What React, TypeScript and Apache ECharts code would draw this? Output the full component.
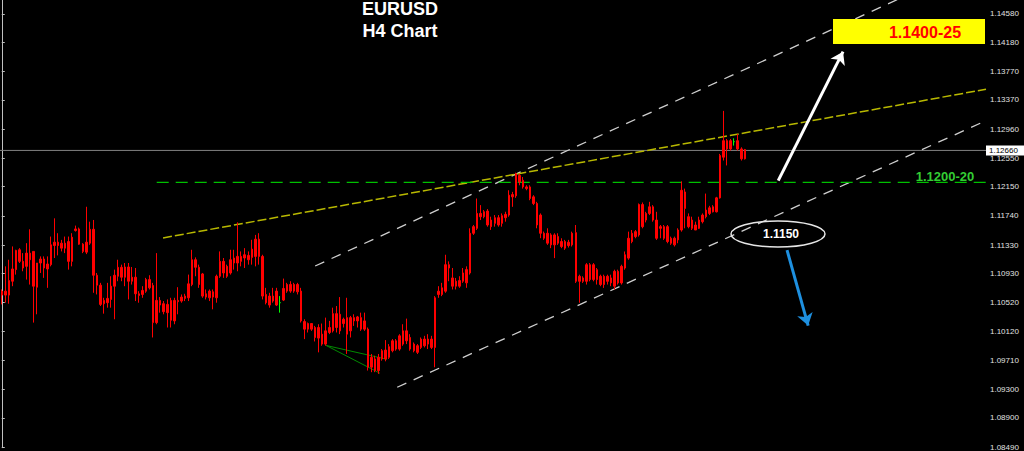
import React, { useEffect, useRef } from "react";
import * as echarts from "echarts";

// EURUSD H4 candles: [open, close, low, high]
const candles: number[][] = [
  [1.10626, 1.10681, 1.10495, 1.10705], [1.10681, 1.10626, 1.10519, 1.1103], [1.10626, 1.1083, 1.10505, 1.11123],
  [1.10821, 1.10993, 1.10751, 1.1131], [1.10984, 1.11254, 1.10914, 1.11263], [1.11263, 1.111, 1.11077, 1.11286],
  [1.111, 1.11007, 1.10961, 1.11216], [1.1103, 1.11216, 1.10844, 1.11356], [1.11216, 1.11123, 1.10774, 1.11551],
  [1.1124, 1.10751, 1.10239, 1.1124], [1.10737, 1.11077, 1.10356, 1.11077], [1.11077, 1.11133, 1.10937, 1.1117],
  [1.11133, 1.11007, 1.10868, 1.1117], [1.10993, 1.11063, 1.10728, 1.1117], [1.11054, 1.11333, 1.1103, 1.11449],
  [1.11323, 1.1137, 1.11147, 1.11705], [1.1137, 1.11323, 1.11184, 1.11496], [1.11356, 1.11286, 1.1124, 1.11402],
  [1.11286, 1.11356, 1.11216, 1.11449], [1.11379, 1.111, 1.10984, 1.11449], [1.111, 1.1144, 1.1103, 1.11496],
  [1.11533, 1.11556, 1.11519, 1.11603], [1.11556, 1.11342, 1.11333, 1.11575], [1.11342, 1.1124, 1.11216, 1.11356],
  [1.1123, 1.1137, 1.11202, 1.11868], [1.11356, 1.11551, 1.11333, 1.11658], [1.11551, 1.10905, 1.10658, 1.11682],
  [1.10905, 1.10765, 1.10635, 1.10937], [1.10765, 1.10495, 1.10472, 1.10798], [1.10505, 1.10551, 1.10365, 1.10588],
  [1.10579, 1.10519, 1.10449, 1.10798], [1.10565, 1.10751, 1.10449, 1.10891], [1.10751, 1.10905, 1.10286, 1.10984],
  [1.10891, 1.11016, 1.10821, 1.11123], [1.11016, 1.10877, 1.10821, 1.11054], [1.10877, 1.11021, 1.10751, 1.11077],
  [1.11021, 1.10821, 1.10565, 1.11077], [1.10821, 1.10877, 1.10774, 1.11021], [1.10877, 1.10644, 1.10542, 1.11007],
  [1.10644, 1.10621, 1.10519, 1.10681], [1.10635, 1.10691, 1.10588, 1.10751], [1.10681, 1.10844, 1.10658, 1.10868],
  [1.10844, 1.10728, 1.10705, 1.10905], [1.10761, 1.10239, 1.1003, 1.10798], [1.10239, 1.10551, 1.10216, 1.11216],
  [1.10551, 1.10486, 1.10379, 1.10598], [1.10505, 1.10393, 1.10356, 1.10542], [1.10379, 1.10495, 1.1017, 1.10565],
  [1.10551, 1.10272, 1.1017, 1.10588], [1.10263, 1.10551, 1.10216, 1.10588], [1.10533, 1.10551, 1.10356, 1.10737],
  [1.10542, 1.10598, 1.10519, 1.10635], [1.10579, 1.10612, 1.10542, 1.10644], [1.10588, 1.10784, 1.10542, 1.10914],
  [1.10775, 1.11123, 1.10751, 1.11263], [1.11123, 1.11017, 1.10891, 1.11156], [1.11017, 1.10775, 1.10728, 1.11054],
  [1.10923, 1.10612, 1.10588, 1.10937], [1.10598, 1.10644, 1.10565, 1.10705], [1.10682, 1.10588, 1.10542, 1.10705],
  [1.10598, 1.10672, 1.10426, 1.10705], [1.10588, 1.10891, 1.10519, 1.10914], [1.10891, 1.111, 1.10868, 1.1124],
  [1.111, 1.10937, 1.10868, 1.11147], [1.10891, 1.1103, 1.10868, 1.11054], [1.10937, 1.11123, 1.10914, 1.11263],
  [1.11147, 1.11077, 1.10984, 1.11263], [1.11077, 1.1117, 1.10961, 1.11649], [1.1117, 1.111, 1.1103, 1.1124],
  [1.11147, 1.11193, 1.11007, 1.11286], [1.11184, 1.11123, 1.11054, 1.1124], [1.11156, 1.11272, 1.11054, 1.11403],
  [1.1117, 1.11412, 1.1103, 1.11472], [1.11412, 1.1117, 1.11054, 1.11496], [1.1117, 1.10612, 1.10565, 1.11193],
  [1.10635, 1.10519, 1.10495, 1.10728], [1.10486, 1.10612, 1.10449, 1.10658], [1.10612, 1.10542, 1.10519, 1.10728],
  [1.10486, 1.10682, 1.10472, 1.10728], [1.10519, 1.10519, 1.10379, 1.10612], [1.10556, 1.10719, 1.10542, 1.10858],
  [1.10682, 1.10775, 1.10658, 1.10798], [1.10775, 1.10682, 1.10658, 1.10821], [1.10682, 1.10775, 1.10658, 1.10798],
  [1.10775, 1.10672, 1.10635, 1.10798], [1.10682, 1.10263, 1.1024, 1.10728], [1.10254, 1.10147, 1.10007, 1.10286],
  [1.10147, 1.10226, 1.101, 1.1024], [1.10226, 1.10147, 1.10123, 1.10226], [1.1017, 1.1003, 1.09974, 1.10193],
  [1.10021, 1.1017, 1.09821, 1.10216], [1.10077, 1.09937, 1.09914, 1.10226], [1.09937, 1.10123, 1.09914, 1.10309],
  [1.101, 1.1017, 1.10077, 1.10263], [1.10123, 1.10365, 1.101, 1.10449], [1.10365, 1.1017, 1.101, 1.10472],
  [1.10123, 1.10356, 1.10077, 1.10598], [1.10286, 1.10226, 1.1017, 1.10309], [1.10309, 1.10077, 1.09798, 1.10588],
  [1.10123, 1.10309, 1.1003, 1.10333], [1.10309, 1.10263, 1.10193, 1.10356], [1.10263, 1.10319, 1.1017, 1.10333],
  [1.10309, 1.10147, 1.10123, 1.10379], [1.10147, 1.10263, 1.10123, 1.10379], [1.10147, 1.09612, 1.09565, 1.1017],
  [1.09612, 1.09751, 1.09542, 1.09798], [1.09728, 1.09565, 1.09542, 1.09774], [1.09565, 1.09751, 1.09518, 1.09798],
  [1.09728, 1.09844, 1.09704, 1.09867], [1.09853, 1.09728, 1.09695, 1.09993], [1.09751, 1.099, 1.09728, 1.09937],
  [1.09844, 1.09983, 1.09821, 1.10007], [1.09983, 1.09867, 1.09844, 1.10007], [1.09867, 1.10053, 1.09844, 1.10076],
  [1.10123, 1.09937, 1.09914, 1.10216], [1.09983, 1.10123, 1.09937, 1.10295], [1.1003, 1.09867, 1.09844, 1.10076],
  [1.09937, 1.09844, 1.09821, 1.0996], [1.09821, 1.09914, 1.09797, 1.09937], [1.0989, 1.10007, 1.09867, 1.1003],
  [1.10007, 1.09914, 1.0989, 1.10053], [1.09937, 1.10007, 1.09867, 1.10076], [1.10007, 1.0989, 1.09867, 1.10053],
  [1.0989, 1.10588, 1.09611, 1.10611], [1.10635, 1.10681, 1.10588, 1.10751], [1.10635, 1.10728, 1.10611, 1.10798],
  [1.10681, 1.11053, 1.10658, 1.11193], [1.11053, 1.11007, 1.10821, 1.111], [1.10867, 1.10751, 1.10705, 1.11007],
  [1.10751, 1.10821, 1.10705, 1.10867], [1.1083, 1.10751, 1.10728, 1.10891], [1.10821, 1.10937, 1.10798, 1.11007],
  [1.10798, 1.10984, 1.10728, 1.1103], [1.10937, 1.11495, 1.10914, 1.11565], [1.11495, 1.11588, 1.11472, 1.11612],
  [1.11565, 1.11774, 1.11542, 1.11984], [1.11774, 1.11728, 1.11681, 1.11891], [1.11728, 1.11798, 1.11705, 1.11821],
  [1.11807, 1.11612, 1.11588, 1.11835], [1.11588, 1.11681, 1.11542, 1.11728], [1.11714, 1.11635, 1.11588, 1.11751],
  [1.11612, 1.11714, 1.11588, 1.11751], [1.11742, 1.11635, 1.11588, 1.11774], [1.11714, 1.11761, 1.11658, 1.11798],
  [1.11751, 1.1203, 1.11728, 1.121], [1.12039, 1.12007, 1.11867, 1.12077], [1.12021, 1.12333, 1.11993, 1.12347],
  [1.12309, 1.12216, 1.1217, 1.12333], [1.1224, 1.12147, 1.12123, 1.12286], [1.12147, 1.12123, 1.121, 1.1217],
  [1.12147, 1.11984, 1.1196, 1.1217], [1.12007, 1.11914, 1.11891, 1.1203], [1.11914, 1.11612, 1.11565, 1.11937],
  [1.11751, 1.11495, 1.11426, 1.11774], [1.11495, 1.11426, 1.11402, 1.11519], [1.11495, 1.11356, 1.11332, 1.11565],
  [1.11332, 1.11472, 1.11286, 1.11495], [1.11472, 1.11332, 1.11146, 1.11495], [1.11356, 1.11449, 1.11332, 1.11495],
  [1.11379, 1.11309, 1.11286, 1.11425], [1.11286, 1.11379, 1.11262, 1.11402], [1.11369, 1.11323, 1.11295, 1.11402],
  [1.11332, 1.11495, 1.11309, 1.11518], [1.11504, 1.1082, 1.10797, 1.11611], [1.1082, 1.1089, 1.10518, 1.10913],
  [1.10867, 1.1082, 1.10797, 1.1089], [1.1082, 1.11053, 1.10774, 1.11076], [1.11053, 1.10844, 1.1082, 1.11076],
  [1.10844, 1.11053, 1.1082, 1.11076], [1.10983, 1.10844, 1.10774, 1.11006], [1.1089, 1.10774, 1.10751, 1.10913],
  [1.10774, 1.1089, 1.10727, 1.10913], [1.1089, 1.1082, 1.10774, 1.10913], [1.10797, 1.10867, 1.10751, 1.10913],
  [1.1096, 1.10751, 1.10704, 1.10983], [1.10797, 1.1096, 1.10774, 1.10983], [1.10797, 1.1103, 1.10774, 1.11053],
  [1.11006, 1.11193, 1.10983, 1.11239], [1.11146, 1.11425, 1.11123, 1.11518], [1.11379, 1.11495, 1.11355, 1.11541],
  [1.11448, 1.11518, 1.11425, 1.11541], [1.11472, 1.11899, 1.11448, 1.11914], [1.11899, 1.11588, 1.11565, 1.11928],
  [1.11681, 1.11774, 1.11648, 1.11797], [1.11774, 1.11867, 1.11751, 1.11937], [1.11867, 1.11681, 1.11658, 1.1189],
  [1.11681, 1.11425, 1.11402, 1.11797], [1.11565, 1.11588, 1.11425, 1.11611], [1.11588, 1.11425, 1.11402, 1.11611],
  [1.11588, 1.11379, 1.11355, 1.11611], [1.11355, 1.11425, 1.11332, 1.11448], [1.11425, 1.11332, 1.11309, 1.11448],
  [1.11402, 1.11541, 1.11355, 1.11565], [1.11541, 1.12099, 1.11518, 1.12225], [1.12076, 1.11844, 1.11565, 1.12123],
  [1.11728, 1.11588, 1.11565, 1.11774], [1.11681, 1.11565, 1.11541, 1.11728], [1.11541, 1.11611, 1.11541, 1.11658],
  [1.11565, 1.11681, 1.11555, 1.11728], [1.11658, 1.11751, 1.11634, 1.11774], [1.11728, 1.11821, 1.11704, 1.12053],
  [1.11774, 1.11853, 1.11751, 1.11881], [1.11867, 1.11797, 1.11788, 1.1189], [1.11797, 1.11993, 1.11788, 1.12007],
  [1.11993, 1.12588, 1.11983, 1.12611], [1.12565, 1.12797, 1.12518, 1.13216], [1.12797, 1.12681, 1.12449, 1.12821],
  [1.12681, 1.12797, 1.12658, 1.12821], [1.12783, 1.12783, 1.12728, 1.1283], [1.12797, 1.12681, 1.12658, 1.12891],
  [1.12681, 1.12542, 1.12518, 1.12704], [1.12542, 1.12672, 1.12532, 1.12681],
];

const slotCount = 280;
const slotLabels = Array.from({ length: slotCount }, (_, i) => String(i));
const priceTicks = [
  1.1458, 1.1418, 1.1377, 1.1337, 1.1296, 1.1255, 1.1215, 1.1174,
  1.1133, 1.1093, 1.1052, 1.1012, 1.0971, 1.093, 1.089, 1.0849,
];
const priceMin = 1.08481;
const priceMax = 1.14775;
const currentPrice = 1.1266;

// drawn objects: [candle index, price]
const bidLine = [[-0.5, currentPrice], [slotCount - 0.5, currentPrice]];
const supportLine = [[44, 1.1221], [279.5, 1.1221]];
const resistanceTrend = [[45.8, 1.1143], [279.5, 1.1352]];
const upperChannel = [[89, 1.11035], [279.5, 1.15351]];
const lowerChannel = [[112.3, 1.0933], [279.5, 1.13079]];
const wedgeA = [[92.1, 1.09918], [109.4, 1.09723]];
const wedgeB = [[92.1, 1.09918], [107.4, 1.09527]];
const upArrow = [[220.5, 1.12235], [238.9, 1.14049]];
const downArrow = [[223, 1.11258], [229, 1.10197]];

const FONT = "'Liberation Sans', Arial, sans-serif";

function lineSeries(data: number[][], color: string, width: number, type: any, z = 3) {
  return {
    type: "line",
    xAxisIndex: 1,
    yAxisIndex: 0,
    data,
    showSymbol: false,
    symbol: "none",
    silent: true,
    clip: true,
    lineStyle: { color, width, type },
    z,
  };
}

function arrowSeries(pts: number[][], color: string) {
  return {
    type: "line",
    xAxisIndex: 1,
    yAxisIndex: 0,
    data: [],
    silent: true,
    z: 6,
    markLine: {
      silent: true,
      symbol: ["none", "arrow"],
      symbolSize: 12,
      label: { show: false },
      lineStyle: { color, width: 3, type: "solid" },
      emphasis: { disabled: true },
      data: [[{ coord: pts[0] }, { coord: pts[1] }]],
    },
  };
}

export default function App() {
  const ref = useRef<HTMLDivElement>(null);

  useEffect(() => {
    if (!ref.current) return;
    const chart = echarts.init(ref.current, undefined, { renderer: "svg" });

    const candleData = candles.map((c) =>
      c[0] === c[1]
        ? {
            value: c,
            itemStyle: {
              color: "#00ff00",
              color0: "#00ff00",
              borderColor: "#00ff00",
              borderColor0: "#00ff00",
              borderColorDoji: "#00ff00",
            },
          }
        : { value: c }
    );

    const bid: any = lineSeries(bidLine, "#808080", 1, "solid", 2);
    bid.endLabel = {
      show: true,
      distance: 0,
      formatter: () => currentPrice.toFixed(5),
      backgroundColor: "#ffffff",
      color: "#000000",
      fontSize: 8,
      lineHeight: 9,
      fontFamily: FONT,
      padding: [1, 8, 0, 3],
    };

    chart.setOption({
      animation: false,
      backgroundColor: "#000000",
      grid: { left: 0, right: 38, top: 0, bottom: 0, containLabel: false },
      xAxis: [
        { type: "category", data: slotLabels, show: false, boundaryGap: true },
        { type: "value", min: -0.5, max: slotCount - 0.5, show: false },
      ],
      yAxis: {
        type: "value",
        position: "right",
        min: priceMin,
        max: priceMax,
        scale: true,
        splitLine: { show: false },
        axisLine: { show: true, lineStyle: { color: "#c0c0c0", width: 1 } },
        axisTick: {
          show: true,
          inside: false,
          length: 3,
          lineStyle: { color: "#c0c0c0" },
          customValues: priceTicks,
        },
        axisLabel: {
          show: true,
          color: "#e0e0e0",
          fontSize: 8,
          fontFamily: FONT,
          margin: 4,
          customValues: priceTicks,
          formatter: (v: number) => v.toFixed(5),
        },
      },
      series: [
        bid,
        lineSeries(upperChannel, "#cfcfcf", 1.3, [10, 8]),
        lineSeries(lowerChannel, "#cfcfcf", 1.3, [10, 8]),
        lineSeries(resistanceTrend, "#b8b800", 1.5, [9, 3]),
        lineSeries(supportLine, "#00c000", 1.2, [12, 7]),
        lineSeries(wedgeA, "#008a00", 1, "solid"),
        lineSeries(wedgeB, "#008a00", 1, "solid"),
        {
          type: "candlestick",
          xAxisIndex: 0,
          yAxisIndex: 0,
          data: candleData,
          barWidth: 2,
          silent: true,
          z: 4,
          itemStyle: {
            color: "#ff0000",
            color0: "#ff0000",
            borderColor: "#ff0000",
            borderColor0: "#ff0000",
            borderWidth: 1,
          },
        },
        arrowSeries(upArrow, "#ffffff"),
        arrowSeries(downArrow, "#1e90e0"),
      ],
      graphic: [
        {
          type: "text",
          x: 400,
          y: 9,
          style: {
            text: "EURUSD",
            fill: "#ffffff",
            font: `bold 18px ${FONT}`,
            textAlign: "center",
            textVerticalAlign: "middle",
          },
        },
        {
          type: "text",
          x: 400,
          y: 31,
          style: {
            text: "H4 Chart",
            fill: "#ffffff",
            font: `bold 18px ${FONT}`,
            textAlign: "center",
            textVerticalAlign: "middle",
          },
        },
        {
          type: "rect",
          shape: { x: 833, y: 19, width: 152, height: 25 },
          style: { fill: "#ffff00" },
          z: 10,
        },
        {
          type: "text",
          x: 925,
          y: 32,
          z: 11,
          style: {
            text: "1.1400-25",
            fill: "#ff0000",
            font: `bold 16px ${FONT}`,
            textAlign: "center",
            textVerticalAlign: "middle",
          },
        },
        {
          type: "text",
          x: 945,
          y: 176,
          z: 11,
          style: {
            text: "1.1200-20",
            fill: "#33cc33",
            font: `bold 13px ${FONT}`,
            textAlign: "center",
            textVerticalAlign: "middle",
          },
        },
        {
          type: "ellipse",
          shape: { cx: 778, cy: 234, rx: 47, ry: 13 },
          style: { fill: "none", stroke: "#e6e6e6", lineWidth: 1.5 },
          z: 10,
        },
        {
          type: "text",
          x: 781,
          y: 234,
          z: 11,
          style: {
            text: "1.1150",
            fill: "#ffffff",
            font: `bold 12px ${FONT}`,
            textAlign: "center",
            textVerticalAlign: "middle",
          },
        },
      ],
    });

    return () => chart.dispose();
  }, []);

  return (
    <div
      ref={ref}
      style={{ position: "fixed", left: 0, top: 0, width: 1024, height: 451, background: "#000" }}
    />
  );
}
